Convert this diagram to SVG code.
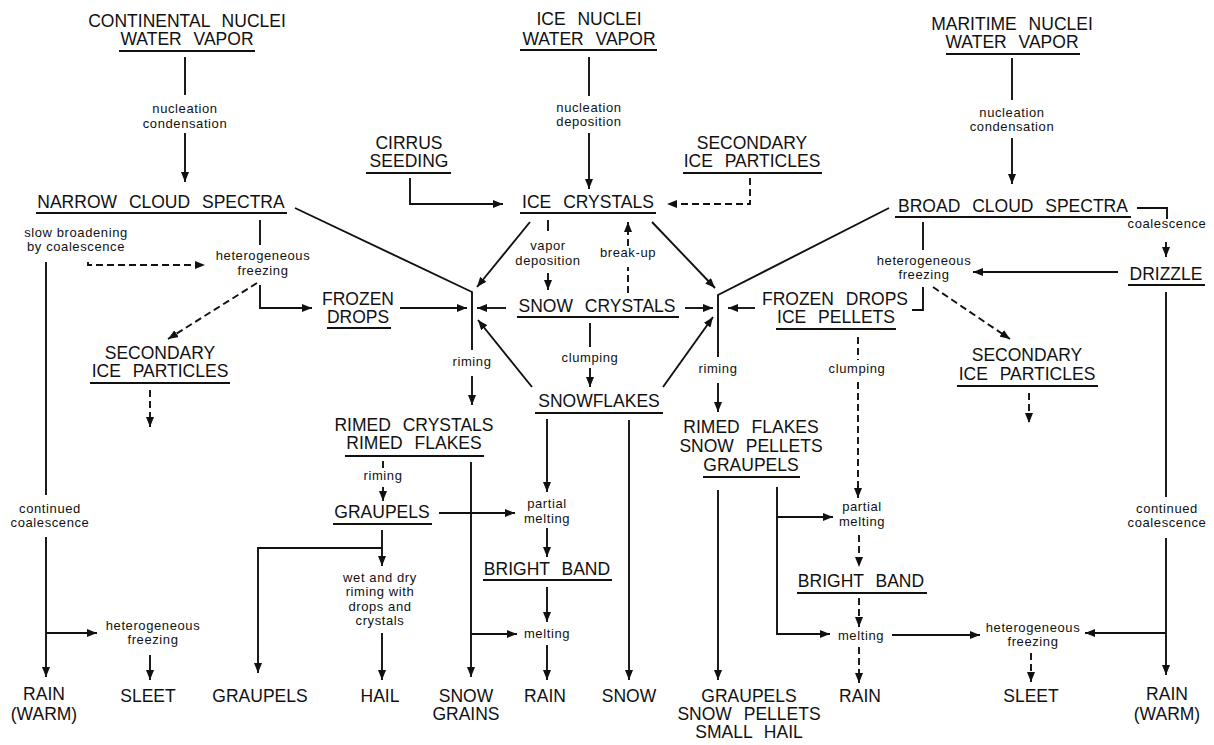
<svg xmlns="http://www.w3.org/2000/svg" width="1214" height="745" viewBox="0 0 1214 745">
<style>
  .n { font-family: "Liberation Sans", Arial, sans-serif; font-size: 17.5px; fill: #111; text-anchor: middle; word-spacing: 7px; }
  .s { font-family: "Liberation Sans", Arial, sans-serif; font-size: 13px; letter-spacing: 0.6px; fill: #111; text-anchor: middle; }
  .u { stroke: #111; stroke-width: 1.8; fill: none; }
  .c { stroke: #111; stroke-width: 1.9; fill: none; }
  .d { stroke: #111; stroke-width: 1.9; fill: none; stroke-dasharray: 7 4; }
</style>
<defs>
  <marker id="ah" markerUnits="userSpaceOnUse" markerWidth="10" markerHeight="8" refX="10" refY="4" orient="auto">
    <path d="M0,0 L10,4 L0,8 z" fill="#111"/>
  </marker>
</defs>
<rect width="1214" height="745" fill="#fff"/>

<!-- nodes -->
<g id="continental">
  <text class="n"><tspan x="187" y="27">CONTINENTAL NUCLEI</tspan><tspan x="187" y="45">WATER VAPOR</tspan></text>
  <line class="u" x1="119" y1="51" x2="255" y2="51"/>
</g>
<g id="icenuclei">
  <text class="n"><tspan x="589" y="25">ICE NUCLEI</tspan><tspan x="589" y="45">WATER VAPOR</tspan></text>
  <line class="u" x1="520" y1="50" x2="657" y2="50"/>
</g>
<g id="maritime">
  <text class="n"><tspan x="1012" y="30">MARITIME NUCLEI</tspan><tspan x="1012" y="48">WATER VAPOR</tspan></text>
  <line class="u" x1="946" y1="54" x2="1080" y2="54"/>
</g>
<g id="cirrus">
  <text class="n"><tspan x="409" y="149">CIRRUS</tspan><tspan x="409" y="167">SEEDING</tspan></text>
  <line class="u" x1="366" y1="173" x2="451" y2="173"/>
</g>
<g id="secondary-top">
  <text class="n"><tspan x="752" y="149">SECONDARY</tspan><tspan x="752" y="167">ICE PARTICLES</tspan></text>
  <line class="u" x1="683" y1="173" x2="822" y2="173"/>
</g>
<g id="narrow">
  <text class="n" x="161" y="208">NARROW CLOUD SPECTRA</text>
  <line class="u" x1="36" y1="213" x2="287" y2="213"/>
</g>
<g id="icecrystals">
  <text class="n" x="588" y="208">ICE CRYSTALS</text>
  <line class="u" x1="520" y1="213" x2="656" y2="213"/>
</g>
<g id="broad">
  <text class="n" x="1013" y="212">BROAD CLOUD SPECTRA</text>
  <line class="u" x1="895" y1="217" x2="1131" y2="217"/>
</g>
<g id="drizzle">
  <text class="n" x="1166" y="280">DRIZZLE</text>
  <line class="u" x1="1128" y1="285" x2="1205" y2="285"/>
</g>
<g id="frozen-left">
  <text class="n"><tspan x="358" y="305">FROZEN</tspan><tspan x="358" y="323">DROPS</tspan></text>
  <line class="u" x1="327" y1="328" x2="391" y2="328"/>
</g>
<g id="snowcrystals">
  <text class="n" x="597" y="312">SNOW CRYSTALS</text>
  <line class="u" x1="517" y1="317" x2="679" y2="317"/>
</g>
<g id="frozen-right">
  <text class="n"><tspan x="835" y="305">FROZEN DROPS</tspan><tspan x="836" y="323">ICE PELLETS</tspan></text>
  <line class="u" x1="776" y1="329" x2="896" y2="329"/>
</g>
<g id="secondary-left">
  <text class="n"><tspan x="160" y="359">SECONDARY</tspan><tspan x="160" y="377">ICE PARTICLES</tspan></text>
  <line class="u" x1="90" y1="383" x2="230" y2="383"/>
</g>
<g id="secondary-right">
  <text class="n"><tspan x="1027" y="361">SECONDARY</tspan><tspan x="1027" y="380">ICE PARTICLES</tspan></text>
  <line class="u" x1="957" y1="386" x2="1098" y2="386"/>
</g>
<g id="snowflakes">
  <text class="n" x="599" y="407">SNOWFLAKES</text>
  <line class="u" x1="535" y1="413" x2="663" y2="413"/>
</g>
<g id="rimed-crystals">
  <text class="n"><tspan x="414" y="431">RIMED CRYSTALS</tspan><tspan x="414" y="449">RIMED FLAKES</tspan></text>
  <line class="u" x1="345" y1="456" x2="484" y2="456"/>
</g>
<g id="rimed-flakes">
  <text class="n"><tspan x="751" y="433">RIMED FLAKES</tspan><tspan x="751" y="452">SNOW PELLETS</tspan><tspan x="751" y="471">GRAUPELS</tspan></text>
  <line class="u" x1="703" y1="477" x2="800" y2="477"/>
</g>
<g id="graupels-mid">
  <text class="n" x="382" y="518">GRAUPELS</text>
  <line class="u" x1="333" y1="524" x2="432" y2="524"/>
</g>
<g id="brightband-left">
  <text class="n" x="547" y="575">BRIGHT BAND</text>
  <line class="u" x1="483" y1="580" x2="612" y2="580"/>
</g>
<g id="brightband-right">
  <text class="n" x="861" y="587">BRIGHT BAND</text>
  <line class="u" x1="797" y1="593" x2="927" y2="593"/>
</g>
<g id="rain-warm-left"><text class="n"><tspan x="44" y="700">RAIN</tspan><tspan x="44" y="720">(WARM)</tspan></text></g>
<g id="sleet-left"><text class="n" x="148" y="702">SLEET</text></g>
<g id="graupels-bottom"><text class="n" x="260" y="702">GRAUPELS</text></g>
<g id="hail"><text class="n" x="380" y="702">HAIL</text></g>
<g id="snow-grains"><text class="n"><tspan x="466" y="702">SNOW</tspan><tspan x="466" y="720">GRAINS</tspan></text></g>
<g id="rain-mid"><text class="n" x="545" y="702">RAIN</text></g>
<g id="snow"><text class="n" x="629" y="702">SNOW</text></g>
<g id="graupels-hail"><text class="n"><tspan x="749" y="702">GRAUPELS</tspan><tspan x="749" y="720">SNOW PELLETS</tspan><tspan x="749" y="738">SMALL HAIL</tspan></text></g>
<g id="rain-right"><text class="n" x="860" y="702">RAIN</text></g>
<g id="sleet-right"><text class="n" x="1031" y="702">SLEET</text></g>
<g id="rain-warm-right"><text class="n"><tspan x="1167" y="700">RAIN</tspan><tspan x="1167" y="720">(WARM)</tspan></text></g>

<!-- connectors -->
<g id="connectors">
  <!-- process labels -->
  <text class="s"><tspan x="185" y="113">nucleation</tspan><tspan x="185" y="128">condensation</tspan></text>
  <text class="s"><tspan x="589" y="112">nucleation</tspan><tspan x="589" y="126">deposition</tspan></text>
  <text class="s"><tspan x="1012" y="117">nucleation</tspan><tspan x="1012" y="131">condensation</tspan></text>
  <text class="s"><tspan x="76" y="237">slow broadening</tspan><tspan x="76" y="251">by coalescence</tspan></text>
  <text class="s"><tspan x="263" y="260">heterogeneous</tspan><tspan x="263" y="275">freezing</tspan></text>
  <text class="s"><tspan x="548" y="250">vapor</tspan><tspan x="548" y="265">deposition</tspan></text>
  <text class="s" x="628" y="257">break-up</text>
  <text class="s" x="1167" y="228">coalescence</text>
  <text class="s"><tspan x="924" y="265">heterogeneous</tspan><tspan x="924" y="279">freezing</tspan></text>
  <text class="s" x="472" y="366">riming</text>
  <text class="s" x="590" y="362">clumping</text>
  <text class="s" x="718" y="373">riming</text>
  <text class="s" x="857" y="373">clumping</text>
  <text class="s" x="383" y="480">riming</text>
  <text class="s"><tspan x="547" y="508">partial</tspan><tspan x="547" y="523">melting</tspan></text>
  <text class="s"><tspan x="862" y="511">partial</tspan><tspan x="862" y="526">melting</tspan></text>
  <text class="s"><tspan x="380" y="582">wet and dry</tspan><tspan x="380" y="596">riming with</tspan><tspan x="380" y="611">drops and</tspan><tspan x="380" y="625">crystals</tspan></text>
  <text class="s"><tspan x="50" y="513">continued</tspan><tspan x="50" y="527">coalescence</tspan></text>
  <text class="s"><tspan x="1167" y="513">continued</tspan><tspan x="1167" y="527">coalescence</tspan></text>
  <text class="s"><tspan x="153" y="630">heterogeneous</tspan><tspan x="153" y="644">freezing</tspan></text>
  <text class="s" x="547" y="638">melting</text>
  <text class="s" x="861" y="640">melting</text>
  <text class="s"><tspan x="1033" y="632">heterogeneous</tspan><tspan x="1033" y="646">freezing</tspan></text>

  <!-- top columns -->
  <path class="c" d="M185,57 V95"/>
  <path class="c" d="M185,133 V182" marker-end="url(#ah)"/>
  <path class="c" d="M589,57 V96"/>
  <path class="c" d="M589,133 V189" marker-end="url(#ah)"/>
  <path class="c" d="M1012,58 V100"/>
  <path class="c" d="M1012,138 V184" marker-end="url(#ah)"/>
  <path class="c" d="M410,178 V204 H503" marker-end="url(#ah)"/>
  <path class="d" d="M750,178 V204 H667" marker-end="url(#ah)"/>

  <!-- left junction -->
  <path class="c" d="M295,208 L472,292 V350"/>
  <path class="c" d="M472,376 V405" marker-end="url(#ah)"/>
  <path class="c" d="M530,222 L477,287" marker-end="url(#ah)"/>
  <path class="c" d="M400,308 H467" marker-end="url(#ah)"/>
  <path class="c" d="M506,308 H477" marker-end="url(#ah)"/>
  <path class="c" d="M532,387 L478,320" marker-end="url(#ah)"/>

  <!-- right junction -->
  <path class="c" d="M889,208 L718,295 V357"/>
  <path class="c" d="M718,383 V412" marker-end="url(#ah)"/>
  <path class="c" d="M652,222 L715,288" marker-end="url(#ah)"/>
  <path class="c" d="M685,308 H713" marker-end="url(#ah)"/>
  <path class="c" d="M755,308 H728" marker-end="url(#ah)"/>
  <path class="c" d="M663,387 L713,317" marker-end="url(#ah)"/>

  <!-- ice crystals / snow crystals -->
  <path class="c" d="M548,220 V231"/>
  <path class="c" d="M548,273 V290" marker-end="url(#ah)"/>
  <path class="d" d="M628,293 V267"/>
  <path class="d" d="M628,246 V222" marker-end="url(#ah)"/>
  <path class="c" d="M590,323 V347"/>
  <path class="c" d="M590,368 V387" marker-end="url(#ah)"/>

  <!-- narrow cloud spectra branch -->
  <path class="c" d="M260,220 V245"/>
  <path class="d" d="M88,262 V265 H205" marker-end="url(#ah)"/>
  <path class="c" d="M260,285 V308 H312" marker-end="url(#ah)"/>
  <path class="d" d="M257,283 L168,339" marker-end="url(#ah)"/>
  <path class="d" d="M150,390 V427" marker-end="url(#ah)"/>
  <path class="c" d="M46,262 V495"/>
  <path class="c" d="M46,537 V677" marker-end="url(#ah)"/>
  <path class="c" d="M46,633 H97" marker-end="url(#ah)"/>
  <path class="c" d="M150,655 V680" marker-end="url(#ah)"/>

  <!-- broad cloud spectra branch -->
  <path class="c" d="M1137,208 H1167 V219"/>
  <path class="c" d="M1166,242 V257" marker-end="url(#ah)"/>
  <path class="c" d="M1118,272 H973" marker-end="url(#ah)"/>
  <path class="c" d="M923,222 V250"/>
  <path class="c" d="M923,287 V310 H912"/>
  <path class="d" d="M933,287 L1010,339" marker-end="url(#ah)"/>
  <path class="d" d="M1029,393 V423" marker-end="url(#ah)"/>
  <path class="c" d="M1166,292 V497"/>
  <path class="c" d="M1166,538 V675" marker-end="url(#ah)"/>
  <path class="c" d="M1166,633 H1085" marker-end="url(#ah)"/>
  <path class="d" d="M858,337 V360"/>
  <path class="d" d="M858,382 V498" marker-end="url(#ah)"/>

  <!-- rimed crystals / graupels -->
  <path class="d" d="M383,461 V468"/>
  <path class="c" d="M383,487 V501" marker-end="url(#ah)"/>
  <path class="c" d="M471,462 V677" marker-end="url(#ah)"/>
  <path class="c" d="M471,634 H517" marker-end="url(#ah)"/>
  <path class="c" d="M439,513 H515" marker-end="url(#ah)"/>
  <path class="c" d="M382,530 V566" marker-end="url(#ah)"/>
  <path class="c" d="M382,633 V680" marker-end="url(#ah)"/>
  <path class="c" d="M382,548 H258 V673" marker-end="url(#ah)"/>

  <!-- snowflakes column -->
  <path class="c" d="M547,419 V492" marker-end="url(#ah)"/>
  <path class="c" d="M547,528 V557" marker-end="url(#ah)"/>
  <path class="c" d="M547,587 V622" marker-end="url(#ah)"/>
  <path class="c" d="M547,645 V680" marker-end="url(#ah)"/>
  <path class="c" d="M629,420 V680" marker-end="url(#ah)"/>

  <!-- rimed flakes column -->
  <path class="c" d="M718,490 V680" marker-end="url(#ah)"/>
  <path class="c" d="M777,487 V634 H830" marker-end="url(#ah)"/>
  <path class="c" d="M777,517 H833" marker-end="url(#ah)"/>
  <path class="d" d="M859,535 V567" marker-end="url(#ah)"/>
  <path class="d" d="M859,598 V627" marker-end="url(#ah)"/>
  <path class="d" d="M859,647 V683" marker-end="url(#ah)"/>
  <path class="c" d="M892,635 H980" marker-end="url(#ah)"/>
  <path class="d" d="M1031,653 V682" marker-end="url(#ah)"/>
</g>
</svg>
